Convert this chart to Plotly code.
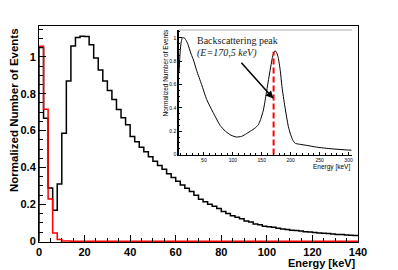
import plotly.graph_objects as go

# ---------------- data ----------------
BIN_WIDTH_KEV = 2.0  # histogram bin width (keV), 70 bins from 0 to 140 keV

black_counts = [
    1.050, 0.667, 0.289, 0.168, 0.310, 0.586, 0.869, 1.058, 1.105, 1.112,
    1.110, 1.065, 0.993, 0.928, 0.869, 0.818, 0.768, 0.714, 0.670, 0.631,
    0.568, 0.540, 0.510, 0.485, 0.458, 0.434, 0.411, 0.390, 0.366, 0.345,
    0.325, 0.305, 0.288, 0.270, 0.250, 0.228, 0.214, 0.200, 0.190, 0.177,
    0.162, 0.150, 0.138, 0.130, 0.122, 0.110, 0.104, 0.094, 0.089, 0.082,
    0.078, 0.076, 0.070, 0.067, 0.064, 0.060, 0.058, 0.056, 0.052, 0.050,
    0.047, 0.045, 0.043, 0.042, 0.040, 0.037, 0.036, 0.034, 0.032, 0.031,
]
red_counts = [
    1.057, 0.716, 0.229, 0.045, 0.009, 0.002, 0.001, 0.0, 0.0, 0.0,
] + [0.0] * 60

inset_energy = [
    7, 9, 11, 13, 16, 19, 22, 28, 32, 37.5, 46, 55, 66, 78, 87, 97, 106,
    115, 124, 132, 138, 144, 148, 152.8, 157.4, 161, 164.4, 168, 170.5,
    173, 176, 178.5, 182, 185, 190, 196, 200, 204, 208, 215, 228, 245,
    262, 280, 297, 305,
]
inset_counts = [
    0.70, 0.88, 0.97, 1.00, 1.00, 0.98, 0.95, 0.86, 0.81, 0.72, 0.60, 0.47,
    0.36, 0.25, 0.20, 0.165, 0.150, 0.155, 0.18, 0.205, 0.225, 0.255, 0.30,
    0.38, 0.51, 0.62, 0.72, 0.82, 0.87, 0.89, 0.87, 0.83, 0.72, 0.58, 0.41,
    0.24, 0.17, 0.12, 0.096, 0.088, 0.078, 0.063, 0.053, 0.045, 0.039, 0.037,
]
backscatter_energy = 170.5
backscatter_height = 0.88

x_ticks = [0, 20, 40, 60, 80, 100, 120, 140]
inset_x_ticks = [50, 100, 150, 200, 250, 300]


def steps(values, width):
    edges = [i * width for i in range(len(values) + 1)]
    return [0.0] + edges, [0.0] + list(values) + [values[-1]]


FONT = "Liberation Sans, Arial, Helvetica, sans-serif"
SERIF = "Liberation Serif, Times New Roman, serif"

fig = go.Figure()

bx, by = steps(black_counts, BIN_WIDTH_KEV)
rx, ry = steps(red_counts, BIN_WIDTH_KEV)
fig.add_trace(go.Scatter(x=bx, y=by, mode="lines", line=dict(color="#000000", width=1.5, shape="hv"),
                         hoverinfo="skip", showlegend=False))
fig.add_trace(go.Scatter(x=rx, y=ry, mode="lines", line=dict(color="#ff0000", width=1.5, shape="hv"),
                         hoverinfo="skip", showlegend=False))

# inset
fig.add_trace(go.Scatter(x=inset_energy, y=inset_counts, mode="lines", xaxis="x2", yaxis="y2",
                         line=dict(color="#000000", width=1, shape="spline", smoothing=0.6),
                         hoverinfo="skip", showlegend=False))
fig.add_trace(go.Scatter(x=[backscatter_energy, backscatter_energy], y=[0, backscatter_height],
                         mode="lines", xaxis="x2", yaxis="y2",
                         line=dict(color="#ff0000", width=2, dash="6px,3px"),
                         hoverinfo="skip", showlegend=False))

L, R, T, B = 39, 40, 26, 28
W, H = 398, 270
pw, ph = W - L - R, H - T - B


def px(xp):
    return (xp - L) / pw


def py(yp):
    return (H - B - yp) / ph


axis_common = dict(showline=True, linecolor="#000000", linewidth=1, mirror=True,
                   showgrid=False, zeroline=False, ticks="inside", tickcolor="#000000")

fig.update_layout(
    width=W, height=H,
    margin=dict(l=L, r=R, t=T, b=B, pad=0),
    paper_bgcolor="white", plot_bgcolor="white",
    showlegend=False,
    xaxis=dict(range=[0, 140], tickvals=x_ticks, ticklen=7, tickwidth=1,
               minor=dict(dtick=5, tick0=0, ticklen=4, ticks="inside", tickcolor="#000000"),
               tickfont=dict(family=FONT, size=11, color="#000000", weight="bold"),
               **axis_common),
    yaxis=dict(range=[-0.004, 1.167], dtick=0.2, tick0=0, ticklen=7, tickwidth=1,
               minor=dict(dtick=0.05, tick0=0, ticklen=4, ticks="inside", tickcolor="#000000"),
               tickfont=dict(family=FONT, size=11, color="#000000", weight="bold"),
               **axis_common),
    xaxis2=dict(domain=[px(179), px(352)], anchor="y2", range=[7, 306],
                tickvals=inset_x_ticks, ticklen=3, showline=True, linecolor="#000000", linewidth=1,
                showgrid=False, zeroline=False, ticks="inside", tickcolor="#000000",
                minor=dict(dtick=10, tick0=0, ticklen=1.5, ticks="inside", tickcolor="#000000"),
                tickfont=dict(family=FONT, size=5, color="#000000")),
    yaxis2=dict(domain=[py(154.5), py(30)], anchor="x2", range=[0, 1.067], dtick=0.2, tick0=0,
                ticklen=3, showline=True, linecolor="#000000", linewidth=1.5,
                showgrid=False, zeroline=False, ticks="inside", tickcolor="#000000",
                minor=dict(dtick=0.05, tick0=0, ticklen=1.5, ticks="inside", tickcolor="#000000"),
                tickfont=dict(family=FONT, size=5, color="#000000")),
    shapes=[dict(type="line", xref="paper", yref="paper", x0=px(179), x1=px(352),
                 y0=py(30), y1=py(30), line=dict(color="#aaaaaa", width=1))],
    annotations=[
        dict(text="Normalized Number of Events", xref="paper", yref="paper",
             x=px(14), y=1.0, xanchor="center", yanchor="top", textangle=-90, showarrow=False,
             font=dict(family=FONT, size=11.5, color="#000000", weight="bold")),
        dict(text="Energy [keV]", xref="paper", yref="paper",
             x=1.0, y=py(262.5), xanchor="right", yanchor="middle", showarrow=False,
             font=dict(family=FONT, size=11, color="#000000", weight="bold")),
        dict(text="Normalized Number of Events", xref="paper", yref="paper",
             x=px(165), y=py(28), xanchor="center", yanchor="top", textangle=-90, showarrow=False,
             font=dict(family=FONT, size=6.5, color="#000000")),
        dict(text="Energy [keV]", xref="paper", yref="paper",
             x=px(352), y=py(166.7), xanchor="right", yanchor="middle", showarrow=False,
             font=dict(family=FONT, size=6.5, color="#000000")),
        dict(text="Backscattering peak", xref="x2", yref="y2", x=34.6, y=0.98,
             xanchor="left", yanchor="middle", showarrow=False,
             font=dict(family=SERIF, size=10, color="#222222")),
        dict(text="<i>(E=170,5 keV)</i>", xref="x2", yref="y2", x=34.6, y=0.872,
             xanchor="left", yanchor="middle", showarrow=False,
             font=dict(family=SERIF, size=10, color="#222222")),
        dict(text="", xref="x2", yref="y2", x=170, y=0.48, ax=112.5, ay=0.80,
             axref="x2", ayref="y2", showarrow=True, arrowhead=2, arrowsize=1,
             arrowwidth=1.5, arrowcolor="#000000"),
    ],
)

fig.write_html("out.html", config={"displayModeBar": False},
               post_script="document.body.style.margin='0';document.body.style.padding='0';")
